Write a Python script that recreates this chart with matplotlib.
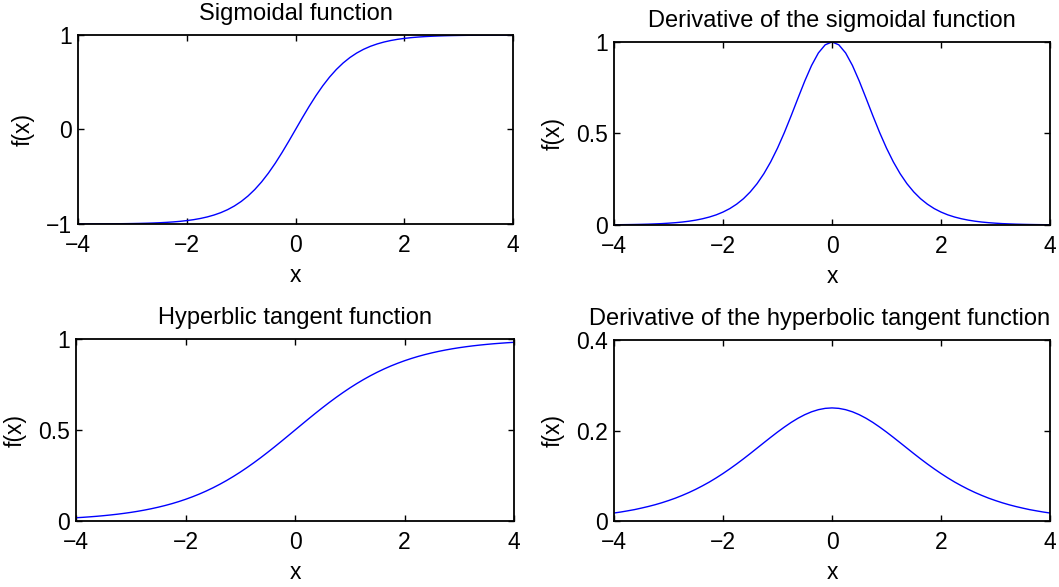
import numpy as np
import matplotlib
matplotlib.use("Agg")
import matplotlib.pyplot as plt

plt.rcParams['font.family'] = ['Liberation Sans', 'DejaVu Sans']

# x grid, values at 0.125 steps
x_vals = [-4.0, -3.875, -3.75, -3.625, -3.5, -3.375, -3.25, -3.125, -3.0, -2.875,
          -2.75, -2.625, -2.5, -2.375, -2.25, -2.125, -2.0, -1.875, -1.75, -1.625,
          -1.5, -1.375, -1.25, -1.125, -1.0, -0.875, -0.75, -0.625, -0.5, -0.375,
          -0.25, -0.125, 0.0, 0.125, 0.25, 0.375, 0.5, 0.625, 0.75, 0.875, 1.0,
          1.125, 1.25, 1.375, 1.5, 1.625, 1.75, 1.875, 2.0, 2.125, 2.25, 2.375,
          2.5, 2.625, 2.75, 2.875, 3.0, 3.125, 3.25, 3.375, 3.5, 3.625, 3.75,
          3.875, 4.0]

sig_vals = [-0.9993, -0.9991, -0.9989, -0.9986, -0.9982, -0.9977, -0.9970, -0.9962,
            -0.9951, -0.9937, -0.9919, -0.9896, -0.9866, -0.9828, -0.9780, -0.9719,
            -0.9640, -0.9541, -0.9414, -0.9254, -0.9051, -0.8799, -0.8483, -0.8093,
            -0.7616, -0.7039, -0.6351, -0.5546, -0.4621, -0.3584, -0.2449, -0.1244,
            0.0,
            0.1244, 0.2449, 0.3584, 0.4621, 0.5546, 0.6351, 0.7039, 0.7616,
            0.8093, 0.8483, 0.8799, 0.9051, 0.9254, 0.9414, 0.9541, 0.9640,
            0.9719, 0.9780, 0.9828, 0.9866, 0.9896, 0.9919, 0.9937, 0.9951,
            0.9962, 0.9970, 0.9977, 0.9982, 0.9986, 0.9989, 0.9991, 0.9993]

dsig_vals = [0.0013, 0.0017, 0.0022, 0.0028, 0.0036, 0.0046, 0.0060, 0.0076,
             0.0099, 0.0126, 0.0161, 0.0207, 0.0266, 0.0341, 0.0435, 0.0554,
             0.0707, 0.0897, 0.1138, 0.1436, 0.1808, 0.2258, 0.2804, 0.3450,
             0.4200, 0.5045, 0.5966, 0.6924, 0.7864, 0.8716, 0.9400, 0.9845,
             1.0,
             0.9845, 0.9400, 0.8716, 0.7864, 0.6924, 0.5966, 0.5045, 0.4200,
             0.3450, 0.2804, 0.2258, 0.1808, 0.1436, 0.1138, 0.0897, 0.0707,
             0.0554, 0.0435, 0.0341, 0.0266, 0.0207, 0.0161, 0.0126, 0.0099,
             0.0076, 0.0060, 0.0046, 0.0036, 0.0028, 0.0022, 0.0017, 0.0013]

tanh_vals = [0.0180, 0.0203, 0.0230, 0.0259, 0.0293, 0.0331, 0.0373, 0.0421,
             0.0474, 0.0534, 0.0601, 0.0676, 0.0759, 0.0851, 0.0953, 0.1067,
             0.1192, 0.1330, 0.1480, 0.1645, 0.1824, 0.2018, 0.2227, 0.2451,
             0.2689, 0.2942, 0.3208, 0.3486, 0.3775, 0.4073, 0.4378, 0.4688,
             0.5,
             0.5312, 0.5622, 0.5927, 0.6225, 0.6514, 0.6792, 0.7058, 0.7311,
             0.7549, 0.7773, 0.7982, 0.8176, 0.8355, 0.8520, 0.8670, 0.8808,
             0.8933, 0.9047, 0.9149, 0.9241, 0.9324, 0.9399, 0.9466, 0.9526,
             0.9579, 0.9627, 0.9669, 0.9707, 0.9741, 0.9770, 0.9797, 0.9820]

dtanh_vals = [0.0177, 0.0199, 0.0225, 0.0252, 0.0285, 0.0320, 0.0359, 0.0403,
              0.0452, 0.0505, 0.0565, 0.0630, 0.0701, 0.0779, 0.0862, 0.0953,
              0.1050, 0.1153, 0.1261, 0.1374, 0.1491, 0.1611, 0.1731, 0.1850,
              0.1966, 0.2076, 0.2179, 0.2271, 0.2350, 0.2414, 0.2461, 0.2490,
              0.25,
              0.2490, 0.2461, 0.2414, 0.2350, 0.2271, 0.2179, 0.2076, 0.1966,
              0.1850, 0.1731, 0.1611, 0.1491, 0.1374, 0.1261, 0.1153, 0.1050,
              0.0953, 0.0862, 0.0779, 0.0701, 0.0630, 0.0565, 0.0505, 0.0452,
              0.0403, 0.0359, 0.0320, 0.0285, 0.0252, 0.0225, 0.0199, 0.0177]

titles = ["Sigmoidal function", "Derivative of the sigmoidal function",
          "Hyperblic tangent function", "Derivative of the hyperbolic tangent function"]
x_ticks = [-4, -2, 0, 2, 4]
x_ticklabels = ["\u22124", "\u22122", "0", "2", "4"]
y_ticks = [[-1, 0, 1], [0, 0.5, 1], [0, 0.5, 1], [0, 0.2, 0.4]]
y_ticklabels = [["\u22121", "0", "1"], ["0", "0.5", "1"], ["0", "0.5", "1"], ["0", "0.2", "0.4"]]
series = [sig_vals, dsig_vals, tanh_vals, dtanh_vals]

# axes rectangles in figure fraction
rects = [[0.0737, 0.6184, 0.4108, 0.3220],
         [0.5798, 0.6167, 0.4117, 0.3118],
         [0.0718, 0.1124, 0.4136, 0.3100],
         [0.5798, 0.1124, 0.4117, 0.3083]]

fs = 16.5

fig = plt.figure(figsize=(10.59, 5.87), dpi=100)
for i in range(4):
    ax = fig.add_axes(rects[i])
    ax.plot(x_vals, series[i], color=(0, 0, 1), lw=1.0)
    ax.set_xlim(-4, 4)
    ax.set_ylim(y_ticks[i][0], y_ticks[i][-1])
    ax.set_xticks(x_ticks)
    ax.set_xticklabels(x_ticklabels)
    ax.set_yticks(y_ticks[i])
    ax.set_yticklabels(y_ticklabels[i])
    ax.tick_params(direction='in', top=True, right=True, length=4, width=1,
                   labelsize=fs)
    ax.tick_params(axis='x', pad=7)
    ax.tick_params(axis='y', pad=4.5)
    for s in ax.spines.values():
        s.set_linewidth(1.3)
    ax.set_xlabel("x", fontsize=fs, labelpad=5)
    ax.set_ylabel("f(x)", fontsize=fs, labelpad=8)
    if i == 3:
        # last title is wider than its axes; keep it inside the figure
        ax.set_title(titles[i], fontsize=17, pad=11, x=0.472)
    else:
        ax.set_title(titles[i], fontsize=17, pad=11)

fig.savefig("out.png", dpi=100)
